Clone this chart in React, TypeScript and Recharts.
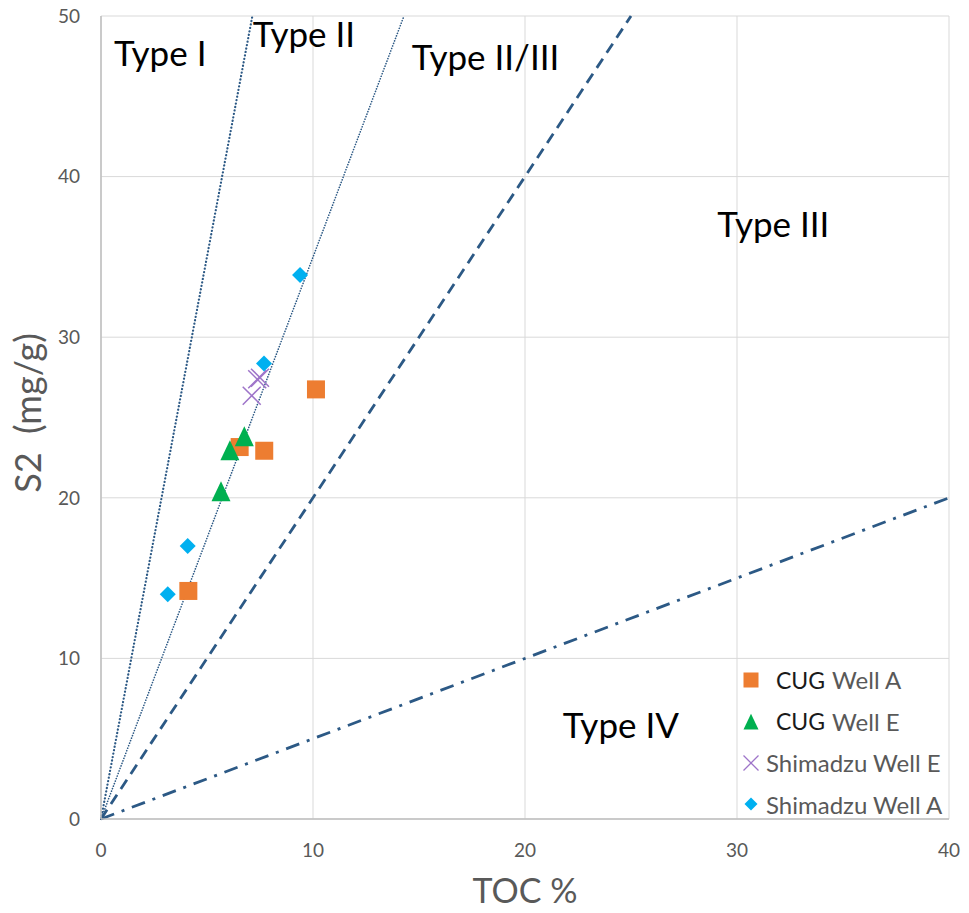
import React from "react";
import { ScatterChart, Scatter, XAxis, YAxis, CartesianGrid, ReferenceLine } from "recharts";

const xTicks = [0, 10, 20, 30, 40];
const yTicks = [0, 10, 20, 30, 40, 50];

const cugWellA = [
  { toc: 4.12, s2: 14.2 },
  { toc: 6.54, s2: 23.16 },
  { toc: 7.7, s2: 22.93 },
  { toc: 10.14, s2: 26.75 },
];
const cugWellE = [
  { toc: 5.66, s2: 20.38 },
  { toc: 6.08, s2: 22.93 },
  { toc: 6.76, s2: 23.8 },
];
const shimadzuWellE = [
  { toc: 7.37, s2: 27.38 },
  { toc: 7.5, s2: 27.48 },
  { toc: 7.11, s2: 26.36 },
];
const shimadzuWellA = [
  { toc: 3.15, s2: 14.0 },
  { toc: 4.09, s2: 17.0 },
  { toc: 7.69, s2: 28.37 },
  { toc: 9.39, s2: 33.87 },
];

// boundary lines all start at the origin; these are their far ends (HI 700, 350, 200, 50)
const boundaryEnds = [
  { toc: 7.14, s2: 50 },
  { toc: 14.29, s2: 50 },
  { toc: 25, s2: 50 },
  { toc: 40, s2: 20 },
];

const typeNames = ["Type I", "Type II", "Type II/III", "Type III", "Type IV"];
// left edge / baseline of each field label
const typeAnchors = [
  { toc: 0.61, s2: 46.9 },
  { toc: 7.16, s2: 48.09 },
  { toc: 14.66, s2: 46.64 },
  { toc: 29.07, s2: 36.26 },
  { toc: 21.78, s2: 5.02 },
];
const typeLabels = typeNames.map((name, i) => ({ ...typeAnchors[i], name }));

const legendNames = [
  ["CUG", "Well A"],
  ["CUG", "Well E"],
  ["", "Shimadzu Well E"],
  ["", "Shimadzu Well A"],
];

const FONT = "Lato, 'Noto Sans', sans-serif";
const LINE = "#2C5985";
const ORANGE = "#ED7D31";
const GREEN = "#00B050";
const PURPLE = "#9E74C9";
const BLUE = "#00B0F0";

const lineStyles = [
  { width: 2.2, dash: "0.1 3.4", cap: "round" as const },
  { width: 1.6, dash: "0.1 2.6", cap: "round" as const },
  { width: 2.8, dash: "11 7", cap: "butt" as const },
  { width: 2.8, dash: "14 8 3 8", cap: "butt" as const },
];

const square = (cx: number, cy: number, s: number) => (
  <rect x={cx - s / 2} y={cy - s / 2} width={s} height={s} fill={ORANGE} />
);
const triangle = (cx: number, cy: number, s: number) => (
  <polygon
    points={`${cx},${cy - s * 0.55} ${cx + s * 0.5},${cy + s * 0.5} ${cx - s * 0.5},${cy + s * 0.5}`}
    fill={GREEN}
  />
);
const cross = (cx: number, cy: number, s: number, w = 1.5) => (
  <g stroke={PURPLE} strokeWidth={w}>
    <line x1={cx - s / 2} y1={cy - s / 2} x2={cx + s / 2} y2={cy + s / 2} />
    <line x1={cx - s / 2} y1={cy + s / 2} x2={cx + s / 2} y2={cy - s / 2} />
  </g>
);
const diamond = (cx: number, cy: number, s: number) => (
  <polygon
    points={`${cx},${cy - s / 2} ${cx + s / 2},${cy} ${cx},${cy + s / 2} ${cx - s / 2},${cy}`}
    fill={BLUE}
  />
);

const legendMarks = [
  () => square(10, 10, 15),
  () => triangle(10, 11, 15),
  () => cross(10, 10, 15, 1.3),
  () => diamond(10, 10, 13),
];

function Legend() {
  return (
    <div
      style={{
        position: "absolute",
        left: 738,
        top: 659,
        width: 210,
        height: 159,
        background: "#fff",
        fontFamily: FONT,
        fontSize: 24,
        whiteSpace: "nowrap",
      }}
    >
      {legendNames.map(([a, b], i) => (
        <div key={i} style={{ display: "flex", alignItems: "center", height: 41.5 }}>
          <svg width={20} height={20} style={{ marginLeft: 3, flexShrink: 0 }}>
            {legendMarks[i]()}
          </svg>
          <span style={{ marginLeft: a ? 15 : 5, color: "#1a1a1a", fontSize: a ? 23 : 24 }}>{a}</span>
          <span style={{ marginLeft: a ? 7 : 0, color: "#595959" }}>{b}</span>
        </div>
      ))}
    </div>
  );
}

export default function App() {
  return (
    <div style={{ position: "absolute", left: 0, top: 0, width: 969, height: 913, background: "#fff" }}>
      <ScatterChart width={969} height={913} margin={{ top: 16, right: 20, bottom: 0, left: 0 }}>
        <CartesianGrid stroke="#D9D9D9" strokeWidth={1} />
        <XAxis
          type="number"
          dataKey="toc"
          domain={[0, 40]}
          ticks={xTicks}
          height={94}
          tickLine={false}
          tickSize={0}
          tickMargin={25}
          axisLine={{ stroke: "#BFBFBF", strokeWidth: 1.5 }}
          tick={{ fill: "#595959", fontSize: 19, fontFamily: FONT }}
          label={{
            content: () => (
              <text x={525} y={903} textAnchor="middle" fill="#595959" fontSize={34} fontFamily={FONT}>
                TOC %
              </text>
            ),
          }}
        />
        <YAxis
          type="number"
          dataKey="s2"
          domain={[0, 50]}
          ticks={yTicks}
          width={101}
          tickLine={false}
          tickSize={0}
          tickMargin={21}
          axisLine={{ stroke: "#BFBFBF", strokeWidth: 1.5 }}
          tick={{ fill: "#595959", fontSize: 19, fontFamily: FONT }}
          label={{
            content: () => (
              <text
                x={41}
                y={413}
                transform="rotate(-90 41 413)"
                textAnchor="middle"
                fill="#595959"
                fontSize={36}
                fontFamily={FONT}
              >
                {"S2\u00A0\u00A0(mg/g)"}
              </text>
            ),
          }}
        />
        {boundaryEnds.map((e, i) => (
          <ReferenceLine
            key={i}
            segment={[{ x: 0, y: 0 }, { x: e.toc, y: e.s2 }]}
            stroke={LINE}
            strokeWidth={lineStyles[i].width}
            strokeDasharray={lineStyles[i].dash}
            strokeLinecap={lineStyles[i].cap}
            ifOverflow="visible"
          />
        ))}
        <Scatter
          data={typeLabels}
          isAnimationActive={false}
          shape={(p: any) => (
            <text x={p.cx} y={p.cy} fill="#000" fontSize={35} fontFamily={FONT}>
              {p.payload.name}
            </text>
          )}
        />
        <Scatter data={cugWellA} isAnimationActive={false} shape={(p: any) => square(p.cx, p.cy, 18)} />
        <Scatter data={cugWellE} isAnimationActive={false} shape={(p: any) => triangle(p.cx, p.cy, 19)} />
        <Scatter data={shimadzuWellE} isAnimationActive={false} shape={(p: any) => cross(p.cx, p.cy, 18)} />
        <Scatter data={shimadzuWellA} isAnimationActive={false} shape={(p: any) => diamond(p.cx, p.cy, 16)} />
      </ScatterChart>
      <Legend />
    </div>
  );
}
